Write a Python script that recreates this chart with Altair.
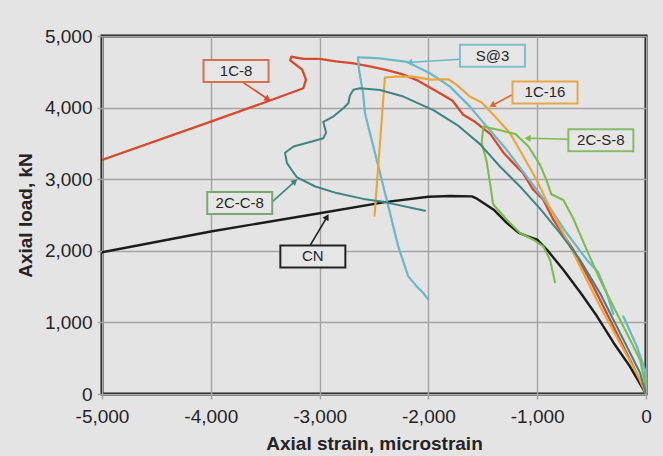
import math
import altair as alt
import pandas as pd

# ---------------- data ----------------
CN_x = [-5000, -4000, -3000, -2400, -2000, -1800, -1600, -1550, -1400, -1280, -1170, -1100, -1000, -910, -760, -600, -450, -300, -150, 0]
CN_y = [1980, 2270, 2525, 2680, 2755, 2765, 2760, 2725, 2575, 2390, 2250, 2210, 2155, 2015, 1735, 1410, 1085, 720, 390, 0]

C18_x = [-5000, -4000, -3500, -3150, -3125, -3160, -3270, -3260, -3150, -3000, -2850, -2700, -2550, -2400, -2250, -2100,
         -1950, -1780, -1680, -1580, -1430, -1310, -1220, -1130, -1036, -944, -852, -668, -484, -301, -117, 0]
C18_y = [3270, 3805, 4075, 4270, 4390, 4530, 4660, 4710, 4680, 4680, 4645, 4620, 4580, 4530, 4470, 4380,
         4250, 4100, 3900, 3810, 3630, 3370, 3225, 3085, 2852, 2713, 2434, 2015, 1503, 946, 388, 0]

S3_x = [-301, -361, -440, -545, -729, -913, -1097, -1280, -1464, -1618, -1801, -1985, -2199, -2445, -2629, -2648,
        -2635, -2600, -2583, -2506, -2429, -2353, -2277, -2185, -2108, -2047, -2001]
S3_y = [1120, 1411, 1700, 1876, 2248, 2666, 3038, 3410, 3735, 4014, 4293, 4480, 4640, 4689, 4703, 4700,
        4500, 4200, 3922, 3456, 2992, 2527, 2061, 1643, 1503, 1411, 1318]
S3b_x = [0, -10, -85, -209]
S3b_y = [0, 340, 667, 1085]

C116_x = [-2495, -2400, -2300, -2139, -1985, -1817, -1740, -1618, -1510, -1373, -1250, -1128, -1005, -882, -729, -576, -423, -239, -55, 0]
C116_y = [2490, 4420, 4433, 4433, 4390, 4396, 4317, 4154, 4070, 3850, 3643, 3320, 2990, 2596, 2155, 1690, 1225, 714, 202, 0]

C2S8_x = [0, -9, -55, -178, -301, -423, -545, -668, -760, -870, -913, -974, -1080, -1200, -1330, -1495,
          -1510, -1465, -1434, -1405, -1280, -1158, -1036, -944, -882, -836]
C2S8_y = [0, 156, 481, 854, 1225, 1597, 2015, 2450, 2710, 2790, 2980, 3200, 3456, 3630, 3680, 3735,
          3503, 3250, 2950, 2650, 2434, 2248, 2155, 2061, 1876, 1560]

C2C8_x = [0, -55, -239, -423, -607, -790, -974, -1158, -1342, -1526, -1720, -1950, -2230, -2445, -2629, -2690,
          -2721, -2736, -2782, -2880, -2966, -2940, -2966, -3070, -3240, -3318, -3300, -3211, -3040, -2843,
          -2598, -2400, -2108, -2031]
C2C8_y = [0, 296, 854, 1411, 1876, 2248, 2590, 2898, 3177, 3490, 3740, 3960, 4154, 4247, 4270, 4250,
          4170, 4061, 3990, 3870, 3800, 3650, 3573, 3526, 3456, 3370, 3224, 3030, 2898, 2806,
          2725, 2680, 2585, 2560]

SERIES = ["CN", "1C-8", "S@3", "1C-16", "2C-S-8", "2C-C-8"]
COLORS = ["#1c1c1c", "#d8492c", "#6bb8c9", "#eca53c", "#7dbb4d", "#3e8581"]
WIDTHS = [2.4, 2.0, 2.0, 2.0, 2.0, 2.0]

# annotation boxes (label, centre x, centre y, box colour, arrow start, arrow end, arrow colour)
LABELS = ["1C-8", "2C-C-8", "CN", "S@3", "1C-16", "2C-S-8"]
LAB_X = [-3768, -3734, -3062, -1411, -928, -415]
LAB_Y = [4512, 2667, 1922, 4724, 4212, 3543]
BOX_COL = ["#d9704a", "#7aa870", "#222222", "#7fbfcc", "#e8a848", "#86bb6a"]
ARR_X1 = [-3701, -3431, -3088, -1710, -1234, -714]
ARR_Y1 = [4349, 2689, 2071, 4675, 4177, 3559]
ARR_X2 = [-3456, -3210, -2920, -2199, -1434, -1112]
ARR_Y2 = [4098, 2992, 2503, 4628, 4014, 3573]
ARR_COL = ["#d8492c", "#3e8581", "#1c1c1c", "#6bb8c9", "#e0652a", "#7dbb4d"]

X_TICKS = [-5000, -4000, -3000, -2000, -1000, 0]
Y_TICKS = [0, 1000, 2000, 3000, 4000, 5000]

# ---------------- build tables ----------------
rows = []
def add(name, seg, xs, ys):
    for i, (a, b) in enumerate(zip(xs, ys)):
        rows.append(dict(series=name, seg=seg, x=a, y=b, i=i))

add("CN", "CN", CN_x, CN_y)
add("1C-8", "1C-8", C18_x, C18_y)
add("S@3", "S@3a", S3_x, S3_y)
add("S@3", "S@3b", S3b_x, S3b_y)
add("1C-16", "1C-16", C116_x, C116_y)
add("2C-S-8", "2C-S-8", C2S8_x, C2S8_y)
add("2C-C-8", "2C-C-8", C2C8_x, C2C8_y)
lines_df = pd.DataFrame(rows)

W, H = 544, 358
PX = W / 5000.0
PY = H / 5000.0
BOX_W_PX, BOX_H_PX = 65, 22

boxes = []
for lab, cx, cy, bc, x1, y1, x2, y2, ac in zip(LABELS, LAB_X, LAB_Y, BOX_COL, ARR_X1, ARR_Y1, ARR_X2, ARR_Y2, ARR_COL):
    dxp = (x2 - x1) * PX
    dyp = -(y2 - y1) * PY
    L = math.hypot(dxp, dyp)
    ang = math.degrees(math.atan2(dxp, -dyp)) % 360
    back = 3.5
    hx = x2 - (dxp / L) * back / PX
    hy = y2 + (dyp / L) * back / PY
    lx = x2 - (dxp / L) * 5 / PX
    ly = y2 + (dyp / L) * 5 / PY
    boxes.append(dict(label=lab, cx=cx, cy=cy,
                      bx=cx - BOX_W_PX / 2 / PX, bx2=cx + BOX_W_PX / 2 / PX,
                      by=cy - BOX_H_PX / 2 / PY, by2=cy + BOX_H_PX / 2 / PY,
                      bcol=bc, ax=x1, ay=y1, ax2=lx, ay2=ly, hx=hx, hy=hy, ang=ang, acol=ac))
ann_df = pd.DataFrame(boxes)

FONT = "Liberation Sans"
X_SCALE = alt.Scale(domain=[-5000, 0], nice=False, zero=False)
Y_SCALE = alt.Scale(domain=[0, 5000], nice=False)
X_AXIS = alt.Axis(values=X_TICKS, title="Axial strain, microstrain",
                  labelExpr="(datum.value < 0 ? '-' : '') + format(abs(datum.value), ',')",
                  labelPadding=8, titlePadding=8, labelFlush=False)
Y_AXIS = alt.Axis(values=Y_TICKS, title="Axial load, kN", format=",.0f",
                  labelPadding=5, titlePadding=9)

lines = alt.Chart(lines_df).mark_line(strokeJoin="round", strokeCap="round", clip=True).encode(
    x=alt.X("x:Q", scale=X_SCALE, axis=X_AXIS),
    y=alt.Y("y:Q", scale=Y_SCALE, axis=Y_AXIS),
    color=alt.Color("series:N", scale=alt.Scale(domain=SERIES, range=COLORS), legend=None),
    strokeWidth=alt.StrokeWidth("series:N", scale=alt.Scale(domain=SERIES, range=WIDTHS), legend=None),
    detail="seg:N",
    order="i:Q",
)

rules = alt.Chart(ann_df).mark_rule(strokeWidth=1.6).encode(
    x=alt.X("ax:Q", scale=X_SCALE, axis=X_AXIS),
    y=alt.Y("ay:Q", scale=Y_SCALE, axis=Y_AXIS),
    x2="ax2:Q", y2="ay2:Q",
    color=alt.Color("acol:N", scale=None),
)

heads = alt.Chart(ann_df).mark_point(shape="triangle", filled=True, size=50, opacity=1).encode(
    x=alt.X("hx:Q", scale=X_SCALE, axis=X_AXIS),
    y=alt.Y("hy:Q", scale=Y_SCALE, axis=Y_AXIS),
    angle=alt.Angle("ang:Q", scale=None),
    color=alt.Color("acol:N", scale=None),
)

rects = alt.Chart(ann_df).mark_rect(fill="#e6e6e6", strokeWidth=2).encode(
    x=alt.X("bx:Q", scale=X_SCALE, axis=X_AXIS),
    y=alt.Y("by:Q", scale=Y_SCALE, axis=Y_AXIS),
    x2="bx2:Q", y2="by2:Q",
    stroke=alt.Stroke("bcol:N", scale=None),
)

texts = alt.Chart(ann_df).mark_text(font=FONT, fontSize=15, color="#262626").encode(
    x=alt.X("cx:Q", scale=X_SCALE, axis=X_AXIS),
    y=alt.Y("cy:Q", scale=Y_SCALE, axis=Y_AXIS),
    text="label:N",
)

chart = alt.layer(lines, rules, heads, rects, texts).properties(
    width=W, height=H,
    autosize=alt.AutoSizeParams(type="none"),
    padding={"left": 102, "top": 36, "right": 17, "bottom": 62},
    background="#e4e4e4",
).configure_view(
    stroke="#161616", strokeWidth=3,
).configure_axis(
    labelFont=FONT, titleFont=FONT, labelFontSize=19, titleFontSize=19,
    titleFontWeight="bold", labelColor="#242424", titleColor="#242424",
    gridColor="#a4a4a4", gridWidth=1.4, tickColor="#a4a4a4", tickSize=5, tickWidth=1.4,
    domain=False,
)

chart.save("out.html", embed_options={"renderer": "svg", "actions": False})
